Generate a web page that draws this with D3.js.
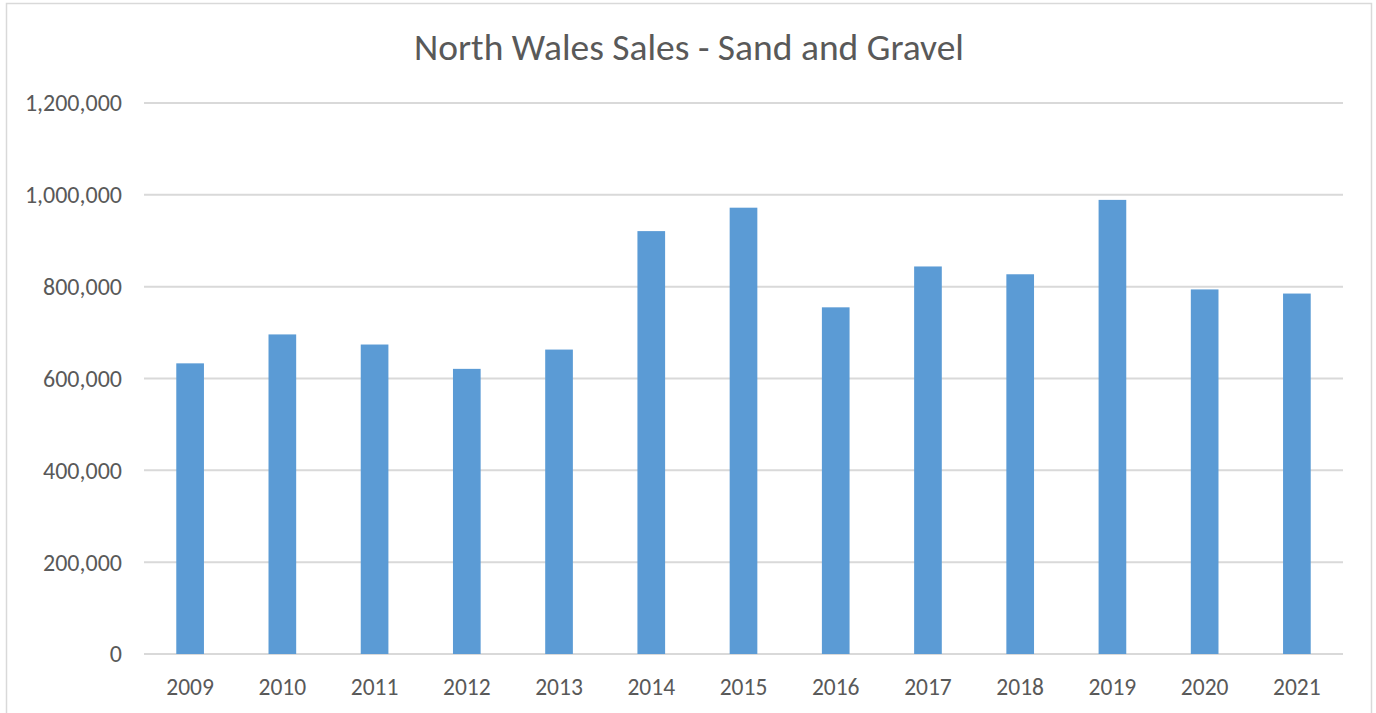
<!DOCTYPE html>
<html>
<head>
<meta charset="utf-8">
<script src="https://cdn.jsdelivr.net/npm/d3@7"></script>
<style>
  body { margin: 0; background: #fff; }
  svg text { font-family: Carlito, Lato, "Open Sans", sans-serif; fill: #595959; }
</style>
</head>
<body>
<script>
// chart data
var years = ["2009", "2010", "2011", "2012", "2013", "2014", "2015",
             "2016", "2017", "2018", "2019", "2020", "2021"];
var sales = [633000, 696000, 674000, 621000, 663000, 921000, 972000,
             755000, 844000, 827000, 989000, 794000, 785000];
var yTicks = [0, 200000, 400000, 600000, 800000, 1000000, 1200000];

var width = 1376, height = 713;
var margin = {top: 103, right: 33, bottom: 57, left: 144};

var svg = d3.select("body").append("svg")
    .attr("width", width)
    .attr("height", height);

// chart area border
svg.append("rect")
    .attr("x", 6.5).attr("y", 3.5)
    .attr("width", 1365).attr("height", 720)
    .attr("fill", "#fff")
    .attr("stroke", "#d9d9d9")
    .attr("stroke-width", 1.5);

var x = d3.scaleBand()
    .domain(years)
    .range([margin.left, width - margin.right])
    .paddingInner(0.7)
    .paddingOuter(0.35);

var y = d3.scaleLinear()
    .domain([0, 1200000])
    .range([height - margin.bottom - 2, margin.top]);

var fmt = d3.format(",");

// gridlines
svg.append("g")
    .selectAll("line")
    .data(yTicks)
    .enter()
    .append("line")
    .attr("x1", margin.left)
    .attr("x2", width - margin.right)
    .attr("y1", function(d) { return y(d); })
    .attr("y2", function(d) { return y(d); })
    .attr("stroke", "#d9d9d9")
    .attr("stroke-width", 2);

// y labels
svg.append("g")
    .selectAll("text")
    .data(yTicks)
    .enter()
    .append("text")
    .attr("x", 122)
    .attr("y", function(d) { return y(d); })
    .attr("dy", "0.35em")
    .attr("text-anchor", "end")
    .style("font-size", "24px")
    .text(function(d) { return fmt(d); });

// bars
svg.append("g")
    .selectAll("rect")
    .data(sales)
    .enter()
    .append("rect")
    .attr("x", function(d, i) { return x(years[i]); })
    .attr("y", function(d) { return y(d); })
    .attr("width", x.bandwidth())
    .attr("height", function(d) { return y(0) - y(d); })
    .attr("fill", "#5b9bd5");

// x labels
svg.append("g")
    .selectAll("text")
    .data(years)
    .enter()
    .append("text")
    .attr("x", function(d) { return x(d) + x.bandwidth() / 2; })
    .attr("y", 687)
    .attr("dy", "0.35em")
    .attr("text-anchor", "middle")
    .style("font-size", "23.5px")
    .text(function(d) { return d; });

// title
svg.append("text")
    .attr("x", 689)
    .attr("y", 47)
    .attr("dy", "0.35em")
    .attr("text-anchor", "middle")
    .style("font-size", "37.5px")
    .text("North Wales Sales - Sand and Gravel");
</script>
</body>
</html>
